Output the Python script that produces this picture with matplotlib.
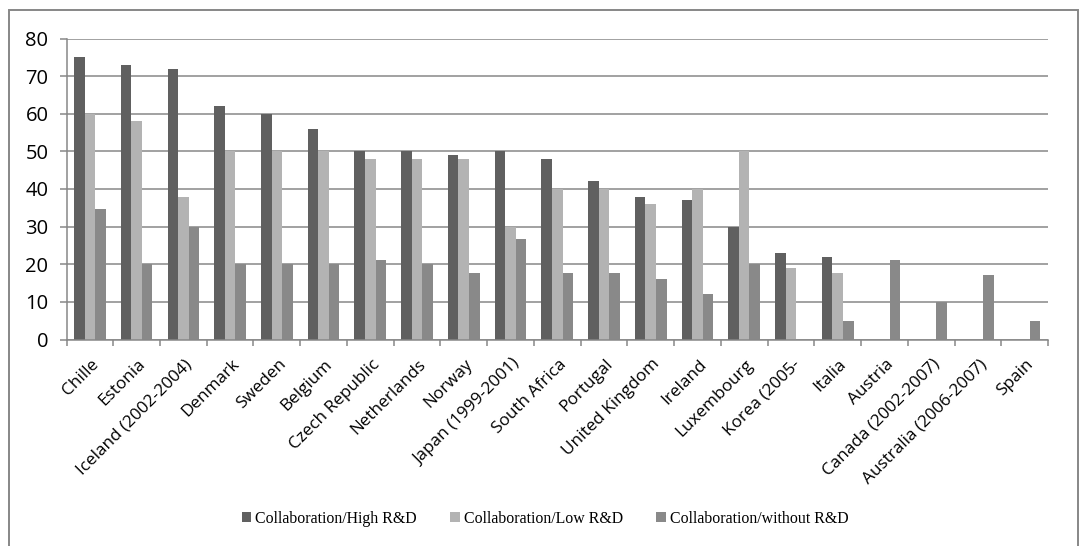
import matplotlib
matplotlib.use("Agg")
import matplotlib.pyplot as plt
import matplotlib.transforms as mtransforms
from matplotlib.patches import Patch, Rectangle
import numpy as np

countries = ["Chille", "Estonia", "Iceland (2002-2004)", "Denmark", "Sweden", "Belgium",
             "Czech Republic", "Netherlands", "Norway", "Japan (1999-2001)", "South Africa",
             "Portugal", "United Kingdom", "Ireland", "Luxembourg", "Korea (2005-", "Italia",
             "Austria", "Canada (2002-2007)", "Australia (2006-2007)", "Spain"]
high_rd = [75, 73, 72, 62, 60, 56, 50, 50, 49, 50, 48, 42, 38, 37, 30, 23, 22, 0, 0, 0, 0]
low_rd = [60, 58, 38, 50, 50, 50, 48, 48, 48, 30, 40, 40, 36, 40, 50, 19, 17.7, 0, 0, 0, 0]
without_rd = [34.7, 20, 30, 20, 20, 20, 21, 20, 17.7, 26.7, 17.7, 17.7, 16.2, 12, 20, 0, 5, 21, 10, 17.2, 5]
series_names = ["Collaboration/High R&D", "Collaboration/Low R&D", "Collaboration/without R&D"]
series_colors = ["#606060", "#b3b3b3", "#898989"]
yticks = [0, 10, 20, 30, 40, 50, 60, 70, 80]

W, H, DPI = 1080, 546, 100
fig = plt.figure(figsize=(W / DPI, H / DPI), dpi=DPI)
fig.patch.set_facecolor("white")

ax = fig.add_axes([66.5 / W, 1 - 339.5 / H, (1048 - 66.5) / W, (339.5 - 38.5) / H])
grid_col = "#878787"

n = len(countries)
x = np.arange(n)
bw = 0.226
for i, (vals, name, col) in enumerate(zip([high_rd, low_rd, without_rd], series_names, series_colors)):
    ax.bar(x + (i - 1) * bw, vals, width=bw, color=col, label=name, zorder=3, linewidth=0)

ax.set_xlim(-0.5, n - 0.5)
ax.set_ylim(0, 80)
ax.set_yticks(yticks)
ax.set_yticklabels([str(v) for v in yticks], fontsize=14.5, family="Open Sans")
ax.yaxis.grid(True, color=grid_col, linewidth=1.1, zorder=0)
ax.set_axisbelow(True)
for s in ["top", "right"]:
    ax.spines[s].set_visible(False)
for s in ["left", "bottom"]:
    ax.spines[s].set_color(grid_col)
    ax.spines[s].set_linewidth(1.1)
    ax.spines[s].set_zorder(4)
ax.tick_params(axis="y", length=5, width=1.1, color=grid_col, pad=8)

# category boundary ticks
ax.set_xticks(np.arange(-0.5, n, 1.0))
ax.set_xticklabels([])
ax.tick_params(axis="x", which="major", length=4, width=1.1, color=grid_col)
ax.set_xticks(x, minor=True)
ax.set_xticklabels(countries, minor=True, rotation=45, ha="right", va="top",
                   rotation_mode="anchor", fontsize=12.3, family="Open Sans")
ax.tick_params(axis="x", which="minor", length=0, pad=12)
offset = mtransforms.ScaledTranslation(1 / DPI, 0, fig.dpi_scale_trans)
for lbl in ax.get_xticklabels(minor=True):
    lbl.set_transform(lbl.get_transform() + offset)

# outer chart border
fig.patches.append(Rectangle((9 / W, -0.05), (1077.5 - 9) / W, 1.05 - 10 / H,
                             transform=fig.transFigure, fill=False,
                             edgecolor=grid_col, linewidth=1.4))

handles = [Patch(facecolor=c, edgecolor="none") for c in series_colors]
fig.legend(handles, series_names, loc="center", bbox_to_anchor=(545 / W, 1 - 519 / H),
           ncol=3, frameon=False, prop={"family": "Liberation Serif", "size": 11.4},
           handlelength=0.6, handleheight=0.6, handletextpad=0.25, columnspacing=2.1)

fig.savefig("out.png", dpi=DPI)
